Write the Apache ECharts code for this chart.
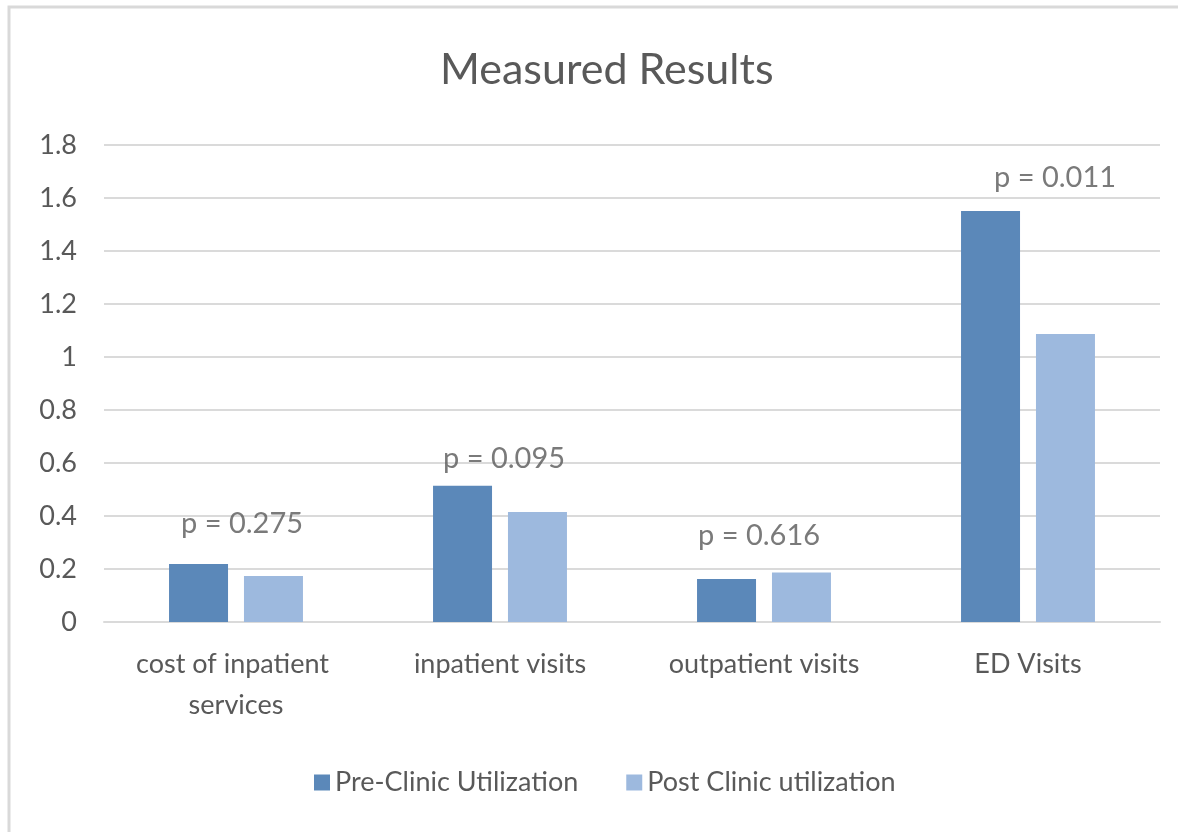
<!DOCTYPE html>
<html>
<head>
<meta charset="utf-8">
<script src="https://cdn.jsdelivr.net/npm/echarts@6/dist/echarts.min.js"></script>
<style>
  html, body { margin: 0; padding: 0; background: #ffffff; }
  #chart { width: 1178px; height: 832px; }
</style>
</head>
<body>
<div id="chart"></div>
<script>
// Utilization measures, before and after the clinic
const categories = ['cost of inpatient services', 'inpatient visits', 'outpatient visits', 'ED Visits'];
const seriesNames = ['Pre-Clinic Utilization', 'Post Clinic utilization'];
const preClinic = [0.219, 0.514, 0.162, 1.551];
const postClinic = [0.174, 0.415, 0.187, 1.087];
const pValues = ['0.275', '0.095', '0.616', '0.011'];
const yTicks = [0, 0.2, 0.4, 0.6, 0.8, 1, 1.2, 1.4, 1.6, 1.8];

const FONT = 'Lato, "Open Sans", sans-serif';
const TEXT = '#595959';
const GRID = '#DADADA';

// Where each p-value note sits: height on the value axis and a small sideways nudge
const noteLayout = [
  { y: 0.373, dx: 6 },
  { y: 0.618, dx: 4 },
  { y: 0.327, dx: -5 },
  { y: 1.675, dx: 27 }
];

const chart = echarts.init(document.getElementById('chart'), null, { renderer: 'canvas' });

chart.setOption({
  animation: false,
  backgroundColor: '#ffffff',
  title: {
    text: 'Measured Results',
    left: 435,
    top: 44,
    textStyle: { fontFamily: FONT, fontSize: 43, fontWeight: 'normal', color: TEXT }
  },
  legend: {
    data: seriesNames,
    top: 764,
    left: 309,
    itemWidth: 16,
    itemHeight: 16,
    itemGap: 48,
    icon: 'rect',
    textStyle: { fontFamily: FONT, fontSize: 27, color: TEXT }
  },
  grid: { left: 104, right: 18, top: 145, bottom: 210 },
  xAxis: {
    type: 'category',
    data: categories,
    axisTick: { show: false },
    axisLine: { lineStyle: { color: GRID, width: 2 } },
    axisLabel: {
      fontFamily: FONT, fontSize: 27, color: TEXT, margin: 22, lineHeight: 41,
      width: 250, overflow: 'break', interval: 0
    }
  },
  yAxis: {
    type: 'value',
    min: yTicks[0],
    max: yTicks[yTicks.length - 1],
    interval: 0.2,
    axisLine: { show: false },
    axisTick: { show: false },
    splitLine: { lineStyle: { color: GRID, width: 2 } },
    axisLabel: {
      fontFamily: FONT, fontSize: 27, color: TEXT, margin: 27,
      formatter: v => String(Math.round(v * 10) / 10)
    }
  },
  series: [
    {
      name: seriesNames[0],
      type: 'bar',
      data: preClinic,
      barWidth: 59,
      barGap: '27%',
      itemStyle: { color: '#5B88B9' }
    },
    {
      name: seriesNames[1],
      type: 'bar',
      data: postClinic,
      barWidth: 59,
      itemStyle: { color: '#9DB9DE' }
    },
    {
      name: 'p-values',
      type: 'scatter',
      symbolSize: 0,
      silent: true,
      z: 5,
      data: pValues.map((p, i) => ({
        value: [i, noteLayout[i].y],
        label: { offset: [noteLayout[i].dx, 0] }
      })),
      label: {
        show: true,
        position: 'inside',
        formatter: p => 'p = ' + pValues[p.dataIndex],
        fontFamily: FONT, fontSize: 29, color: TEXT
      }
    }
  ],
  graphic: [
    {
      type: 'rect',
      silent: true,
      shape: { x: 9, y: 7, width: 1400, height: 1000 },
      style: { fill: 'none', stroke: '#D9D9D9', lineWidth: 3 }
    }
  ]
});
</script>
</body>
</html>
